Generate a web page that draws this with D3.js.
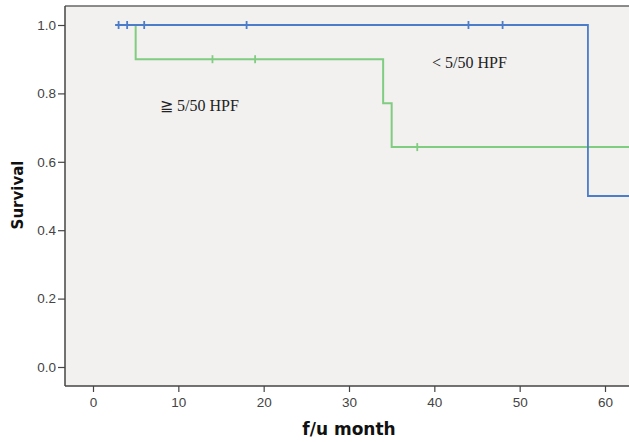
<!DOCTYPE html>
<html lang="en">
<head>
    <meta charset="UTF-8">
    <title>Kaplan-Meier survival</title>
    <script src="https://d3js.org/d3.v7.min.js"></script>
    <style>
        html, body {
            margin: 0;
            padding: 0;
            overflow: hidden;
            background: #fff;
        }
        .tick text {
            font-family: "Liberation Sans", Arial, sans-serif;
            font-size: 13.5px;
            fill: #444;
        }
        .axis-title {
            font-family: "DejaVu Sans", Verdana, sans-serif;
            font-weight: bold;
            fill: #111;
        }
        .group-label {
            font-family: "Liberation Serif", "Times New Roman", serif;
            font-size: 16px;
            fill: #222;
        }
    </style>
</head>
<body>
    <script>
        // step curves: survival after each event time, censor times separately
        const lowTimes = [2.6, 58];
        const lowSurv = [1.0, 0.5];
        const lowCensor = [3, 4, 6, 18, 44, 48];

        const highTimes = [2.6, 5, 34, 35];
        const highSurv = [1.0, 0.9, 0.771, 0.643];
        const highCensor = [14, 19, 38];

        const xTicks = [0, 10, 20, 30, 40, 50, 60];
        const yTicks = [0.0, 0.2, 0.4, 0.6, 0.8, 1.0];

        const W = 629, H = 442;
        const plot = {left: 65, top: 6, right: 629, bottom: 386};

        const x = d3.scaleLinear().domain([0, 60]).range([93, 605]);
        const y = d3.scaleLinear().domain([0, 1]).range([367, 25]);
        const xMax = x.invert(plot.right);

        const svg = d3.select("body").append("svg")
            .attr("width", W)
            .attr("height", H);

        // plot background
        svg.append("rect")
            .attr("x", plot.left)
            .attr("y", plot.top)
            .attr("width", plot.right - plot.left)
            .attr("height", plot.bottom - plot.top)
            .attr("fill", "#f2f1f0");

        // top frame line
        svg.append("line")
            .attr("x1", plot.left).attr("x2", plot.right)
            .attr("y1", plot.top).attr("y2", plot.top)
            .attr("stroke", "#666").attr("stroke-width", 1.5);

        // axes
        const xAxis = svg.append("g")
            .attr("transform", `translate(0,${plot.bottom})`)
            .call(d3.axisBottom(x).tickValues(xTicks).tickFormat(d3.format("d")).tickSize(6).tickPadding(5));
        xAxis.select(".domain").remove();
        xAxis.append("line")
            .attr("x1", plot.left).attr("x2", plot.right)
            .attr("stroke", "#444").attr("stroke-width", 1.5);

        const yAxis = svg.append("g")
            .attr("transform", `translate(${plot.left},0)`)
            .call(d3.axisLeft(y).tickValues(yTicks).tickFormat(d3.format(".1f")).tickSize(7).tickPadding(2));
        yAxis.select(".domain").remove();
        yAxis.append("line")
            .attr("y1", plot.top).attr("y2", plot.bottom)
            .attr("stroke", "#444").attr("stroke-width", 1.5);

        svg.selectAll(".tick line").attr("stroke", "#444").attr("stroke-width", 1.2);

        // build step path data from event arrays, extended to right edge
        function stepPoints(times, surv) {
            const pts = times.map((t, i) => [t, surv[i]]);
            pts.push([xMax, surv[surv.length - 1]]);
            return pts;
        }

        function survAt(times, surv, t) {
            let s = surv[0];
            times.forEach((tt, i) => { if (tt <= t) s = surv[i]; });
            return s;
        }

        const line = d3.line()
            .x(d => x(d[0]))
            .y(d => y(d[1]))
            .curve(d3.curveStepAfter);

        const groups = [
            {times: highTimes, surv: highSurv, censor: highCensor, color: "#80cc80", width: 2},
            {times: lowTimes, surv: lowSurv, censor: lowCensor, color: "#4c7dcb", width: 1.8}
        ];

        svg.append("clipPath").attr("id", "plotclip")
            .append("rect")
            .attr("x", plot.left).attr("y", plot.top)
            .attr("width", plot.right - plot.left).attr("height", plot.bottom - plot.top);

        const curves = svg.append("g").attr("clip-path", "url(#plotclip)");

        groups.forEach(g => {
            curves.append("path")
                .attr("d", line(stepPoints(g.times, g.surv)))
                .attr("fill", "none")
                .attr("stroke", g.color)
                .attr("stroke-width", g.width);

            curves.selectAll(null)
                .data(g.censor)
                .enter().append("line")
                .attr("x1", d => x(d)).attr("x2", d => x(d))
                .attr("y1", d => y(survAt(g.times, g.surv, d)) - 4)
                .attr("y2", d => y(survAt(g.times, g.surv, d)) + 4)
                .attr("stroke", g.color)
                .attr("stroke-width", 1.8);
        });

        // group labels
        svg.append("text")
            .attr("class", "group-label")
            .attr("x", 432).attr("y", 68)
            .text("< 5/50 HPF");

        svg.append("text")
            .attr("class", "group-label")
            .attr("x", 160).attr("y", 111)
            .text("≧ 5/50 HPF");

        // axis titles
        svg.append("text")
            .attr("class", "axis-title")
            .attr("x", 349).attr("y", 435)
            .attr("text-anchor", "middle")
            .style("font-size", "17px")
            .text("f/u month");

        svg.append("text")
            .attr("class", "axis-title")
            .attr("transform", "translate(23,195) rotate(-90)")
            .attr("text-anchor", "middle")
            .style("font-size", "15px")
            .text("Survival");
    </script>
</body>
</html>
